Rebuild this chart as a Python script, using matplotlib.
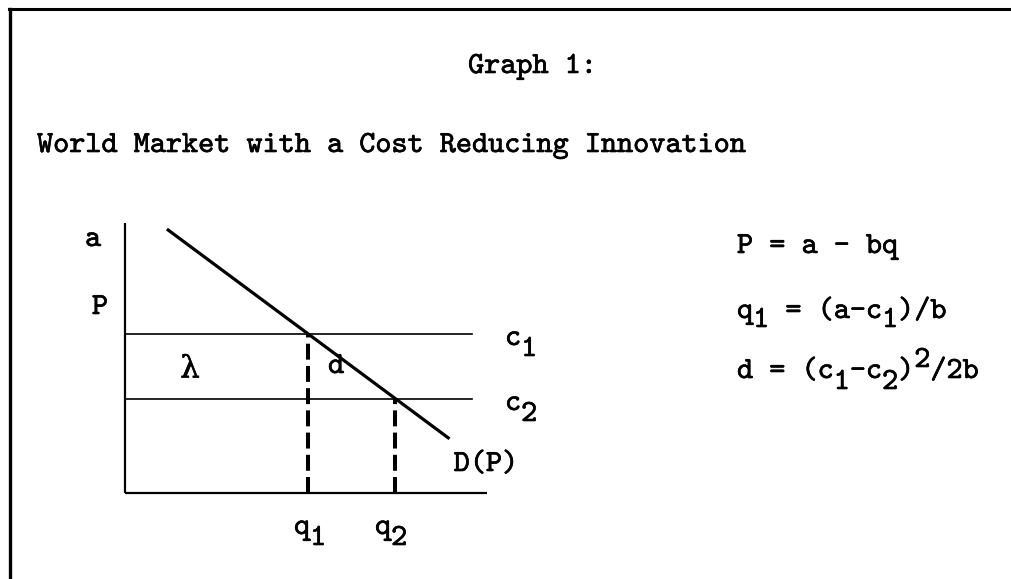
import matplotlib
matplotlib.use("Agg")
import matplotlib.pyplot as plt
from matplotlib.lines import Line2D
from matplotlib.transforms import Affine2D
import matplotlib.patheffects as pe

# ---- data (conceptual diagram values) ----
a_val = 10.0          # demand intercept
b_val = 0.742         # demand slope
c1_val = 5.4          # cost before innovation
c2_val = 3.2          # cost after innovation
q1_val = (a_val - c1_val) / b_val
q2_val = (a_val - c2_val) / b_val
demand_q = [1.42, 11.0]             # drawn extent of demand curve
demand_p = [a_val - b_val * q for q in demand_q]
axis_top_p = 9.15
axis_end_q = 12.27
cost_end_q = 11.76

title_top = "Graph 1:"
title_main = "World Market with a Cost Reducing Innovation"

W, H = 1011, 579
fig = plt.figure(figsize=(W / 100, H / 100), dpi=100)
fig.patch.set_facecolor("white")

# pixel transform (top-left origin)
T = Affine2D().scale(1 / W, -1 / H).translate(0, 1) + fig.transFigure

# axes mapping: origin at pixel (125, 493), 29.5 px per unit
ox, oy, u = 125.0, 493.0, 29.5
ax = fig.add_axes([0, 0, 1, 1])
ax.set_xlim(-ox / u, (W - ox) / u)
ax.set_ylim(-(H - oy) / u, oy / u)
ax.axis("off")

k = "black"
ax.plot([0, 0], [0, axis_top_p], color=k, lw=1.6, solid_capstyle="butt")
ax.plot([0, axis_end_q], [0, 0], color=k, lw=1.6, solid_capstyle="butt")
ax.plot([0, cost_end_q], [c1_val, c1_val], color=k, lw=1.2)
ax.plot([0, cost_end_q], [c2_val, c2_val], color=k, lw=1.2)
ax.plot(demand_q, demand_p, color=k, lw=2.3, solid_capstyle="butt")
plt.rcParams["lines.scale_dashes"] = False
for qv, cv in [(q1_val, c1_val), (q2_val, c2_val)]:
    ln, = ax.plot([qv, qv], [0, cv], color=k, lw=2.9)
    ln.set_dashes((11.5, 4.5))

# ---- text ----
FONT = ["cmtt10", "DejaVu Serif"]
FS = 22.1
CW = 0.525 * FS * 100 / 72   # monospace advance in px
eff = [pe.withStroke(linewidth=0.45, foreground="black")]

def txt(x, y, s, fam=None, **kw):
    kw.setdefault("ha", "left")
    kw.setdefault("va", "baseline")
    t = fig.text(x, y, s, transform=T, fontfamily=fam or FONT, fontsize=FS,
                 color=k, **kw)
    t.set_path_effects(eff)
    return t

def row(x0, y0, pieces):
    """pieces: list of (col, dy, text) laid out on a monospace grid"""
    for col, dy, s in pieces:
        txt(x0 + col * CW, y0 + dy, s)

txt(468, 73, title_top)
txt(37, 152, title_main)

# axis labels
txt(93, 240, "a", ha="center", va="center")
txt(100, 308, "P", ha="center", va="center")
txt(190, 369, "λ", fam=["DejaVu Serif"], ha="center", va="center")
txt(336, 367, "d", ha="center", va="center")
txt(486, 465, "D(P)", ha="center", va="center")

SUB = 11
# cost labels with subscripts
row(505, 345, [(0, 0, "c"), (1, SUB, "1")])
row(505, 410, [(0, 0, "c"), (1, SUB, "2")])
# quantity labels
row(294, 534, [(0, 0, "q"), (1, SUB, "1")])
row(375, 534, [(0, 0, "q"), (1, SUB, "2")])

# equations
ex = 737
txt(ex, 253, "P = a - bq")
row(ex, 318, [(0, 0, "q"), (1, 9, "1"), (3, 0, "= (a-c"), (9, 9, "1"),
              (10, 0, ")/b")])
row(ex, 378, [(0, 0, "d = (c"), (6, 11, "1"), (7, 0, "-c"), (9, 11, "2"),
              (10, 0, ")"), (11, -11, "2"), (12, 0, "/2b")])

# border
fig.add_artist(Line2D([9, W], [9, 9], transform=T, color=k, lw=2.2))
fig.add_artist(Line2D([10, 10], [9, H], transform=T, color=k, lw=2.4))

fig.savefig("out.png", dpi=100)
